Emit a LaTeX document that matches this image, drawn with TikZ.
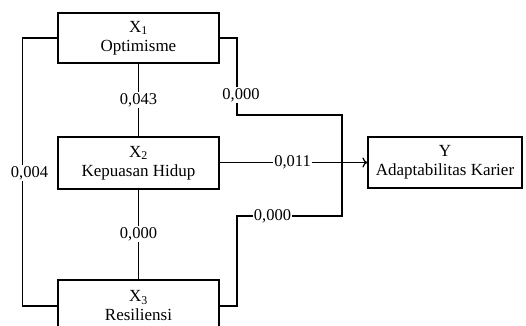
\documentclass[tikz,border=0pt]{standalone}
\usepackage{fontspec}
\setmainfont{Liberation Serif}
\usetikzlibrary{arrows.meta}
\begin{document}
\begin{tikzpicture}[x=1pt,y=-1pt,line width=1.2pt,
  box/.style={draw,minimum width=161pt,minimum height=50pt,inner sep=0pt,align=center,font=\fontsize{17}{19}\selectfont},
  lab/.style={fill=white,inner sep=1pt,font=\fontsize{16.5}{18}\selectfont}]
\clip (0,0) rectangle (526,325);
\node[box] (x1) at (138.5,38) {X\textsubscript{1}\\Optimisme};
\node[box,minimum height=52pt] (x2) at (138.5,163) {X\textsubscript{2}\\Kepuasan Hidup};
\node[box,minimum height=52pt] (x3) at (138.5,306) {X\textsubscript{3}\\Resiliensi};
\node[box,minimum width=154pt,minimum height=51pt] (y) at (445,162.5) {Y\\Adaptabilitas Karier};
\coordinate (l1) at (22.7,38);
\coordinate (l2) at (22.7,306);
\coordinate (r1) at (237,38);
\coordinate (r2) at (237,115);
\coordinate (r3) at (342,115);
\coordinate (m) at (342,162.5);
\coordinate (s1) at (237,306);
\coordinate (s2) at (237,216);
\coordinate (s3) at (342,216);
% left connector X1 - X3
\draw (x1.west |- l1) -- (l1) -- (l2) -- (x3.west |- l2);
% vertical connectors
\draw (x1.south) -- (x2.north);
\draw (x2.south) -- (x3.north);
% X1 to Y
\draw (x1.east |- r1) -- (r1) -- (r2) -- (r3) -- (m);
% X3 to Y
\draw (x3.east |- s1) -- (s1) -- (s2) -- (s3) -- (m);
% X2 to Y
\draw[-{To[length=5pt,width=10pt]}] (x2.east |- y.west) -- (y.west);
% labels
\node[lab] (a) at (29.5,173) {0,004};
\node[lab] (b) at (138.5,100) {0,043};
\node[lab] (c) at (138.5,234) {0,000};
\node[lab] (d) at (241,95) {0,000};
\node[lab] (e) at (272.5,216) {0,000};
\node[lab] (f) at (292.5,162.5) {0,011};
\end{tikzpicture}
\end{document}
